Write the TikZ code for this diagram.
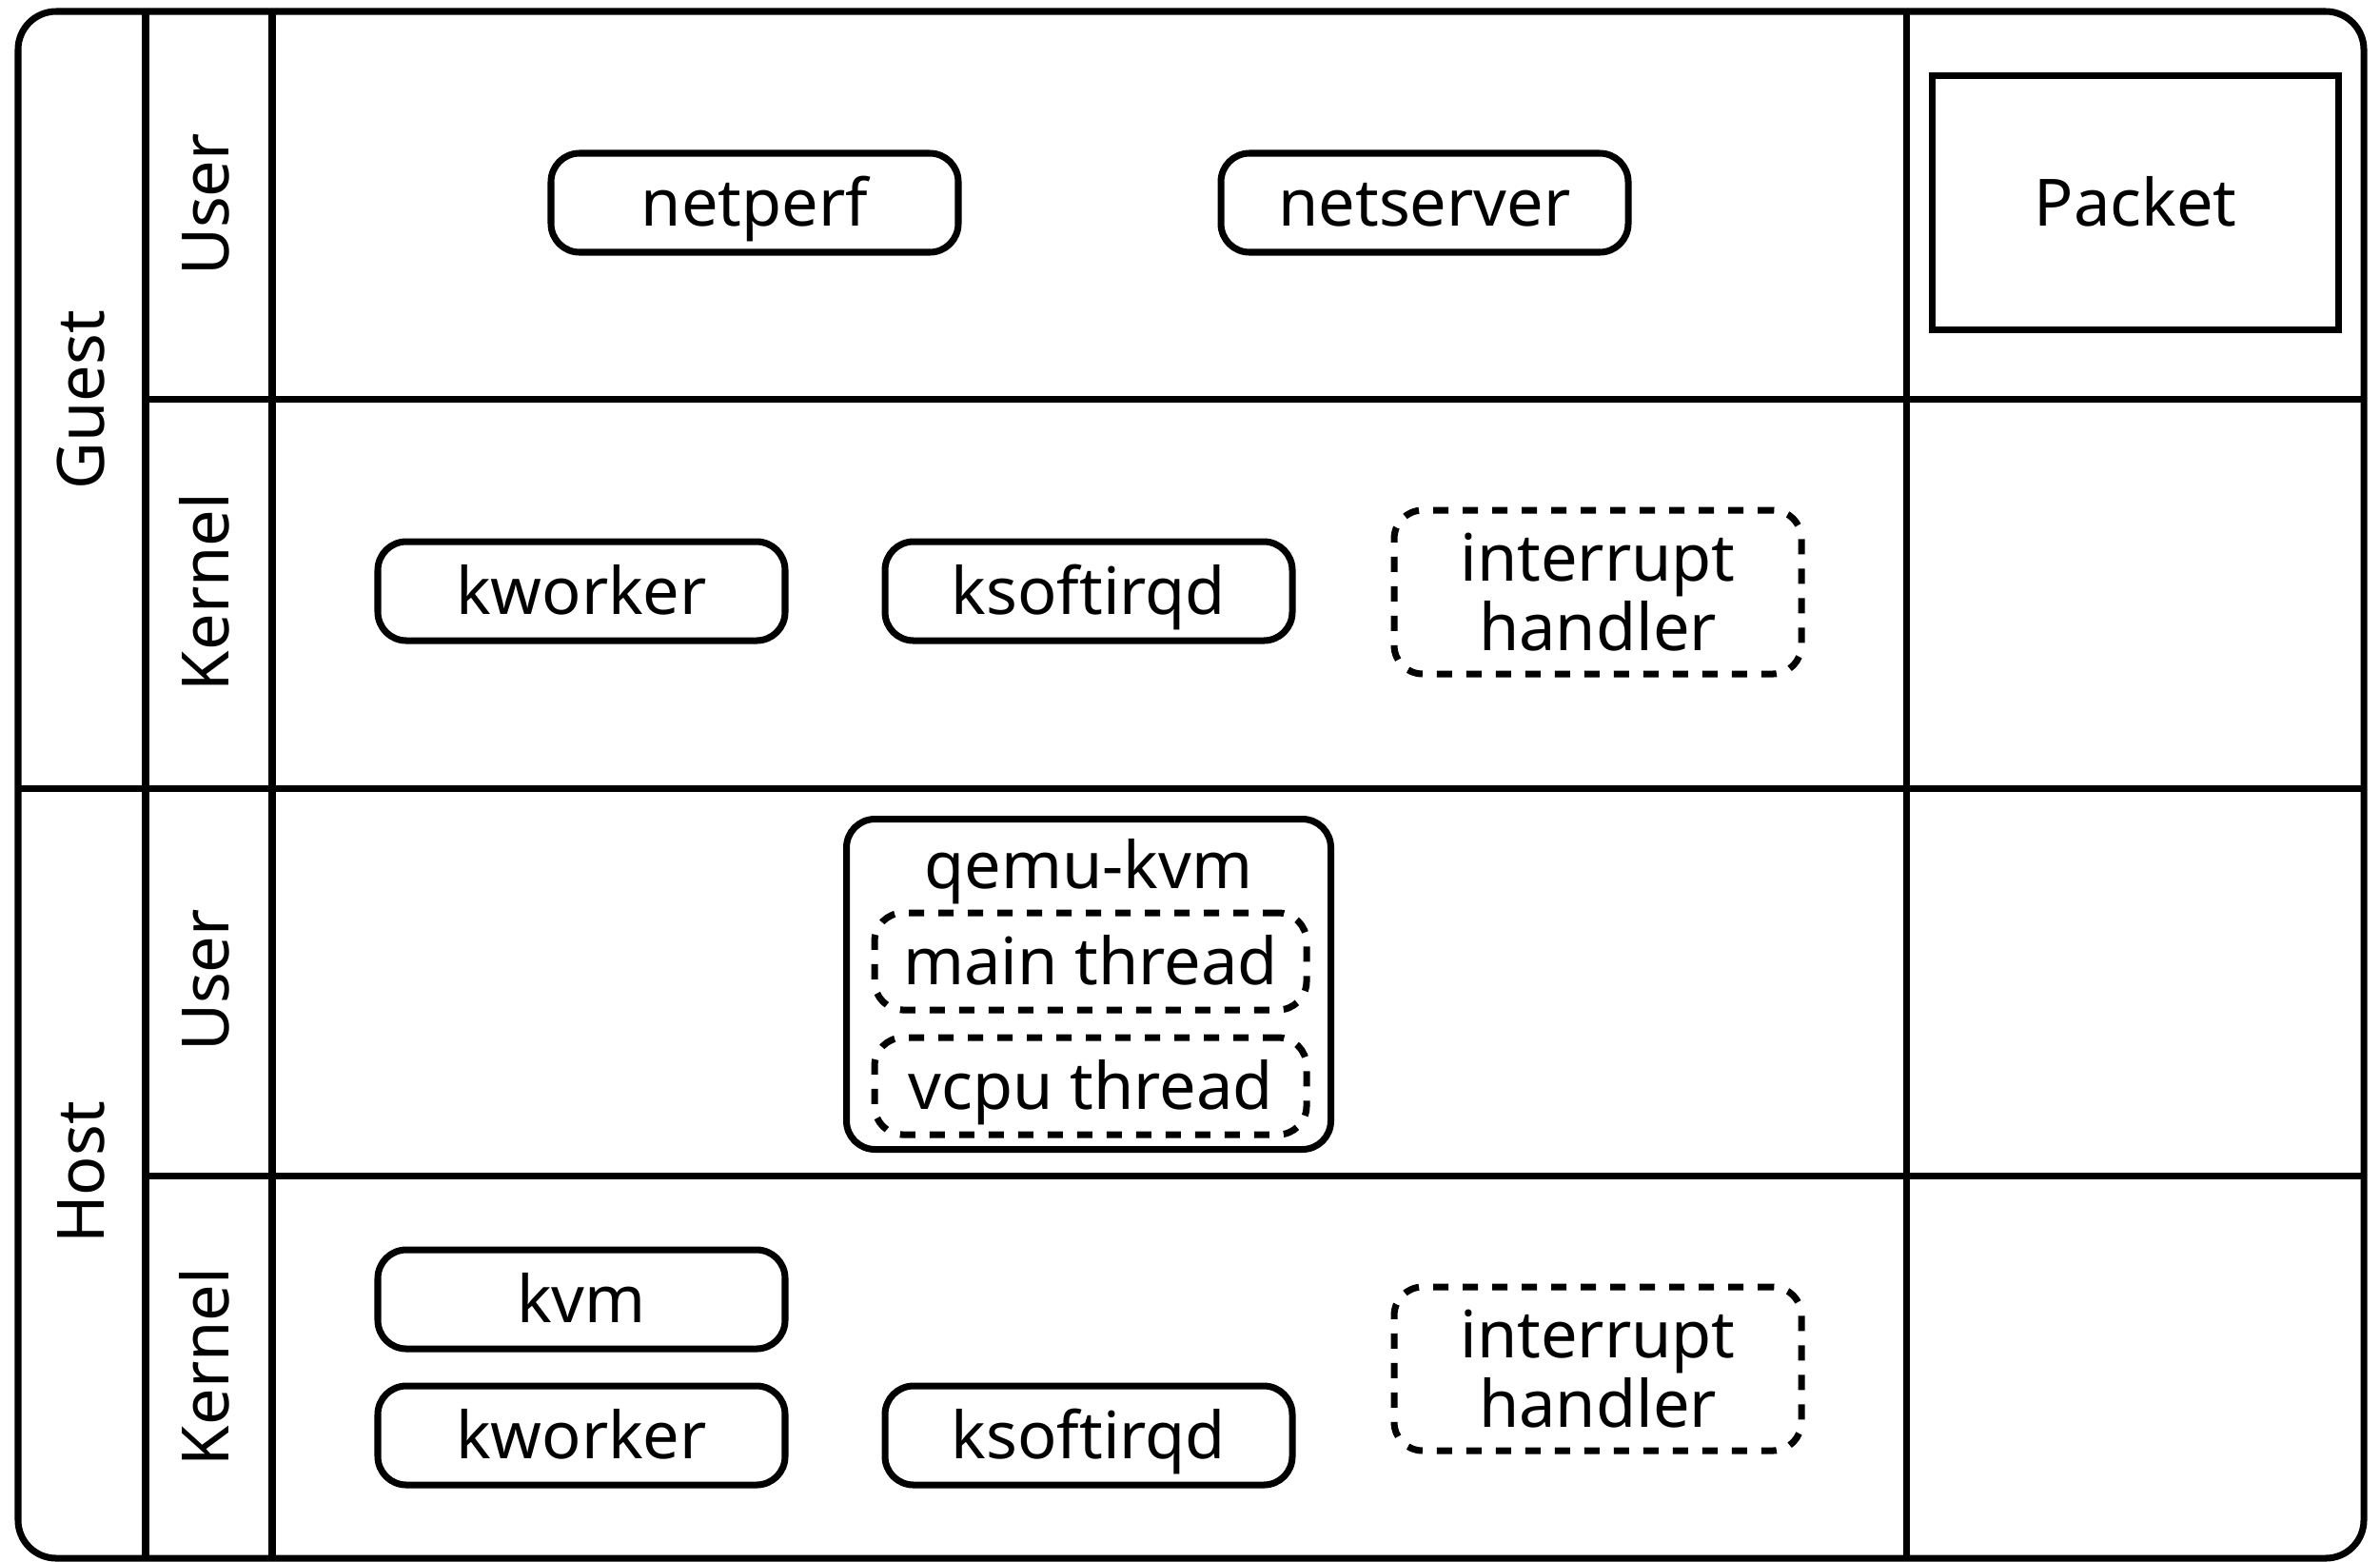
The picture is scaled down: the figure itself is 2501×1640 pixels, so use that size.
\documentclass[tikz,border=0pt]{standalone}
\usepackage{fontspec}
\setmainfont{Noto Sans}
\usetikzlibrary{positioning}

\begin{document}
\begin{tikzpicture}
[
x=0.1mm, y=-0.1mm,
line width=2pt,
every node/.style={font=\fontsize{19.5}{21}\selectfont},
proc/.style={rectangle, draw, rounded corners=3mm, minimum width=42.8mm, minimum height=10.4mm, inner sep=0pt, text height=17pt, text depth=3pt},
irq/.style={proc, dash pattern=on 1.6mm off 1.5mm, align=center, minimum height=17.2mm, text height=, text depth=},
thrd/.style={proc, dash pattern=on 1.6mm off 1.5mm, minimum width=45.4mm, minimum height=10.2mm},
text-a/.style={black, inner sep=0pt, text height=16pt, text depth=4pt},
]
\useasboundingbox (0,0) rectangle (2501,1640);
% frame and grid
\draw [rounded corners=4mm] (19,12) rectangle (2484,1637);
\draw (153,12) -- (153,1637);
\draw (286,12) -- (286,1637);
\draw (2003,12) -- (2003,1637);
\draw (153,419) -- (2484,419);
\draw (19,828) -- (2484,828);
\draw (153,1235) -- (2484,1235);
% row labels
\node (guest)  [text-a, rotate=90] at (88,420)    {Guest};
\node (host)   [text-a, rotate=90] at (88,1232)   {Host};
\node (gusr)   [text-a, rotate=90] at (219,215)   {User};
\node (gkrn)   [text-a, rotate=90] at (219,622)   {Kernel};
\node (husr)   [text-a, rotate=90] at (219,1030)  {User};
\node (hkrn)   [text-a, rotate=90] at (219,1436)  {Kernel};
% guest user
\node (netperf)  [proc] at (793,213)    {netperf};
\node (netsrv)   [proc] at (1497,213)   {netserver};
\node (packet)   [proc, rounded corners=0pt, minimum width=42.7mm, minimum height=26.7mm] at (2244,213) {Packet};
% guest kernel
\node (gkworker) [proc] at (611,621)    {kworker};
\node (gksoft)   [proc] at (1144,621)   {ksoftirqd};
\node (girq)     [irq]  at (1679,622)   {interrupt\\handler};
% host user
\node (qemu)     [proc, minimum width=50.9mm, minimum height=34.7mm] at (1144,1034) {};
\node (qemul)    [text-a] at (1144,912) {qemu-kvm};
\node (mainth)   [thrd] at (1146,1010)  {main thread};
\node (vcputh)   [thrd, below = 2.2mm of mainth] {vcpu thread};
% host kernel
\node (kvm)      [proc] at (611,1365)   {kvm};
\node (hkworker) [proc] at (611,1508)   {kworker};
\node (hksoft)   [proc] at (1144,1508)  {ksoftirqd};
\node (hirq)     [irq]  at (1679,1438)  {interrupt\\handler};
\end{tikzpicture}
\end{document}
